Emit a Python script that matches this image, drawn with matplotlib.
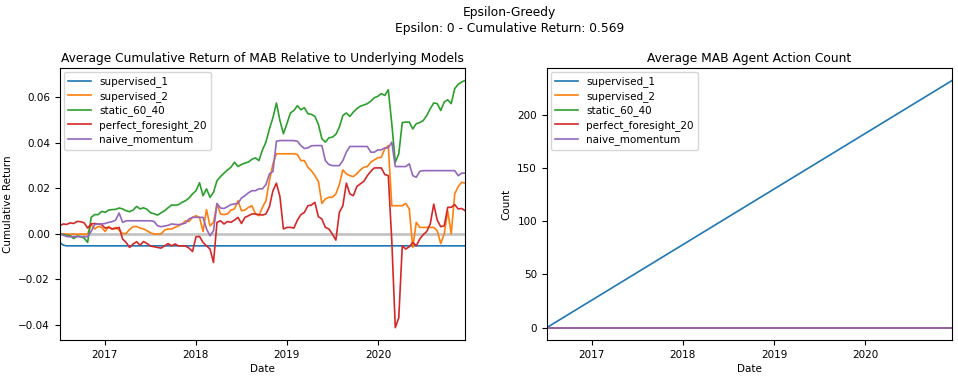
import matplotlib
matplotlib.use("Agg")
import matplotlib.pyplot as plt
import matplotlib.dates as mdates
import numpy as np
import pandas as pd

EPSILON = 0
CUM_RETURN = 0.569

models = ["supervised_1", "supervised_2", "static_60_40",
          "perfect_foresight_20", "naive_momentum"]

# fortnightly dates for the relative return panel
ret_dates = pd.date_range("2016-07-05", periods=117, freq="14D")

supervised_1 = [-0.0038, -0.0050] + [-0.0053] * 115

supervised_2 = [
    0.0000, -0.0001, -0.0001, -0.0003, -0.0001, -0.0003, -0.0001, -0.0003, -0.0001, 0.0040,
    0.0021, 0.0032, 0.0028, 0.0010, 0.0031, 0.0021, 0.0028, 0.0016, 0.0001, 0.0001,
    0.0019, 0.0031, 0.0032, 0.0025, 0.0021, 0.0013, 0.0004, -0.0001, -0.0001, -0.0001,
    0.0016, 0.0021, 0.0021, 0.0028, 0.0035, 0.0043, 0.0057, 0.0054, 0.0072, 0.0079,
    0.0072, 0.0010, 0.0106, 0.0035, 0.0050, 0.0131, 0.0087, 0.0084, 0.0087, 0.0104,
    0.0109, 0.0145, 0.0101, 0.0104, 0.0116, 0.0123, 0.0087, 0.0079, 0.0116, 0.0145,
    0.0233, 0.0307, 0.0351, 0.0351, 0.0351, 0.0351, 0.0351, 0.0351, 0.0348, 0.0321,
    0.0321, 0.0292, 0.0277, 0.0255, 0.0230, 0.0133, 0.0153, 0.0160, 0.0160, 0.0175,
    0.0216, 0.0280, 0.0263, 0.0255, 0.0251, 0.0263, 0.0280, 0.0292, 0.0295, 0.0314,
    0.0324, 0.0333, 0.0336, 0.0373, 0.0387, 0.0123, 0.0123, 0.0123, 0.0123, 0.0133,
    0.0109, -0.0060, 0.0050, 0.0028, 0.0028, 0.0028, 0.0028, 0.0028, 0.0013, -0.0043,
    -0.0001, 0.0101, -0.0001, 0.0175, 0.0207, 0.0226, 0.0222]

static_60_40 = [
    0.0000, -0.0003, -0.0007, -0.0009, -0.0021, -0.0010, -0.0013, -0.0019, -0.0038, 0.0072,
    0.0084, 0.0084, 0.0098, 0.0094, 0.0104, 0.0106, 0.0107, 0.0113, 0.0109, 0.0101,
    0.0097, 0.0104, 0.0120, 0.0109, 0.0114, 0.0107, 0.0092, 0.0088, 0.0082, 0.0092,
    0.0101, 0.0114, 0.0126, 0.0125, 0.0128, 0.0138, 0.0145, 0.0157, 0.0175, 0.0189,
    0.0224, 0.0167, 0.0197, 0.0160, 0.0182, 0.0233, 0.0251, 0.0266, 0.0280, 0.0292,
    0.0314, 0.0295, 0.0304, 0.0310, 0.0315, 0.0327, 0.0333, 0.0321, 0.0368, 0.0402,
    0.0461, 0.0509, 0.0574, 0.0497, 0.0439, 0.0483, 0.0530, 0.0541, 0.0562, 0.0544,
    0.0553, 0.0527, 0.0524, 0.0515, 0.0480, 0.0417, 0.0402, 0.0421, 0.0424, 0.0436,
    0.0468, 0.0519, 0.0530, 0.0515, 0.0534, 0.0549, 0.0560, 0.0565, 0.0571, 0.0582,
    0.0597, 0.0603, 0.0615, 0.0607, 0.0632, 0.0483, 0.0314, 0.0351, 0.0488, 0.0490,
    0.0490, 0.0460, 0.0483, 0.0488, 0.0497, 0.0519, 0.0549, 0.0574, 0.0571, 0.0541,
    0.0578, 0.0588, 0.0571, 0.0637, 0.0656, 0.0666, 0.0673]

perfect_foresight_20 = [
    0.0035, 0.0043, 0.0041, 0.0048, 0.0045, 0.0054, 0.0053, 0.0048, 0.0025, 0.0043,
    0.0045, 0.0043, 0.0040, 0.0025, 0.0028, 0.0021, 0.0023, 0.0028, -0.0023, -0.0038,
    -0.0060, -0.0045, -0.0035, -0.0050, -0.0034, -0.0043, -0.0054, -0.0057, -0.0060, -0.0063,
    -0.0053, -0.0043, -0.0053, -0.0045, -0.0053, -0.0053, -0.0054, -0.0063, -0.0078, -0.0013,
    -0.0012, -0.0038, -0.0053, -0.0067, -0.0126, 0.0050, 0.0057, 0.0043, 0.0054, 0.0050,
    0.0060, 0.0072, 0.0045, 0.0072, 0.0079, 0.0087, 0.0087, 0.0084, 0.0082, 0.0087,
    0.0119, 0.0189, 0.0222, 0.0163, 0.0021, 0.0028, 0.0028, 0.0025, 0.0060, 0.0084,
    0.0094, 0.0123, 0.0126, 0.0138, 0.0075, 0.0065, 0.0028, 0.0021, -0.0001, -0.0028,
    0.0094, 0.0123, 0.0222, 0.0175, 0.0167, 0.0207, 0.0219, 0.0230, 0.0255, 0.0274,
    0.0289, 0.0289, 0.0289, 0.0260, 0.0255, -0.0031, -0.0412, -0.0368, -0.0053, -0.0067,
    -0.0057, -0.0038, -0.0053, -0.0023, -0.0004, 0.0010, 0.0043, 0.0130, 0.0060, 0.0031,
    0.0035, 0.0116, 0.0116, 0.0128, 0.0109, 0.0111, 0.0101]

naive_momentum = [
    0.0000, -0.0006, -0.0012, -0.0013, -0.0013, -0.0013, -0.0013, -0.0013, -0.0013, 0.0010,
    0.0040, 0.0043, 0.0043, 0.0045, 0.0050, 0.0053, 0.0060, 0.0091, 0.0050, 0.0057,
    0.0057, 0.0057, 0.0057, 0.0057, 0.0057, 0.0057, 0.0057, 0.0054, 0.0035, 0.0031,
    0.0034, 0.0037, 0.0043, 0.0041, 0.0040, 0.0043, 0.0047, 0.0065, 0.0072, 0.0072,
    0.0072, 0.0072, 0.0021, -0.0009, 0.0013, 0.0133, 0.0113, 0.0111, 0.0119, 0.0128,
    0.0131, 0.0133, 0.0157, 0.0167, 0.0180, 0.0189, 0.0189, 0.0197, 0.0197, 0.0216,
    0.0263, 0.0273, 0.0406, 0.0409, 0.0409, 0.0409, 0.0409, 0.0409, 0.0406, 0.0387,
    0.0374, 0.0377, 0.0386, 0.0387, 0.0387, 0.0387, 0.0321, 0.0304, 0.0299, 0.0299,
    0.0299, 0.0321, 0.0358, 0.0383, 0.0383, 0.0383, 0.0383, 0.0383, 0.0383, 0.0358,
    0.0358, 0.0368, 0.0368, 0.0377, 0.0377, 0.0402, 0.0295, 0.0295, 0.0295, 0.0295,
    0.0307, 0.0255, 0.0248, 0.0274, 0.0277, 0.0277, 0.0277, 0.0277, 0.0277, 0.0277,
    0.0277, 0.0277, 0.0277, 0.0277, 0.0255, 0.0266, 0.0266]

# weekly actions of the greedy agent (epsilon 0 -> always supervised_1)
act_dates = pd.date_range("2016-07-05", periods=233, freq="7D")
chosen = ["supervised_1"] * 232

rel = pd.DataFrame({"supervised_1": supervised_1, "supervised_2": supervised_2,
                    "static_60_40": static_60_40,
                    "perfect_foresight_20": perfect_foresight_20,
                    "naive_momentum": naive_momentum}, index=ret_dates)

counts = pd.DataFrame(
    {m: np.concatenate([[0], np.cumsum([a == m for a in chosen])]) for m in models},
    index=act_dates)

plt.rcParams['font.family'] = 'DejaVu Sans'
fig = plt.figure(figsize=(9.58, 3.78), dpi=100)
ax1 = fig.add_axes([0.0623, 0.1005, 0.4233, 0.7195])
ax2 = fig.add_axes([0.5707, 0.1005, 0.4233, 0.7195])

ax1.axhline(0, color='#c4c4c4', lw=2, zorder=1)
for m in models:
    ax1.plot(rel.index, rel[m], label=m, lw=1.2, zorder=2)
    ax2.plot(counts.index, counts[m], label=m, lw=1.2)

for ax in (ax1, ax2):
    ax.xaxis.set_major_locator(mdates.YearLocator())
    ax.xaxis.set_major_formatter(mdates.DateFormatter('%Y'))
    ax.tick_params(labelsize=7.5, length=3.5)
    ax.set_xlabel('Date', fontsize=7.5, labelpad=3)
    ax.legend(loc='upper left', fontsize=7.5, handlelength=2.2,
              borderaxespad=0.4, labelspacing=0.35)

ax1.set_xlim(rel.index[0], rel.index[-1])
ax2.set_xlim(counts.index[0], counts.index[-1])
ax1.set_ylabel('Cumulative Return', fontsize=7.5)
ax2.set_ylabel('Count', fontsize=7.5)
ax1.set_title('Average Cumulative Return of MAB Relative to Underlying Models',
              fontsize=8.8, pad=4)
ax2.set_title('Average MAB Agent Action Count', fontsize=8.8, pad=4)

fig.suptitle('Epsilon-Greedy\nEpsilon: %d - Cumulative Return: %.3f' % (EPSILON, CUM_RETURN),
             x=0.532, y=0.985, fontsize=8.8, linespacing=1.3)

fig.savefig('out.png', dpi=100)
